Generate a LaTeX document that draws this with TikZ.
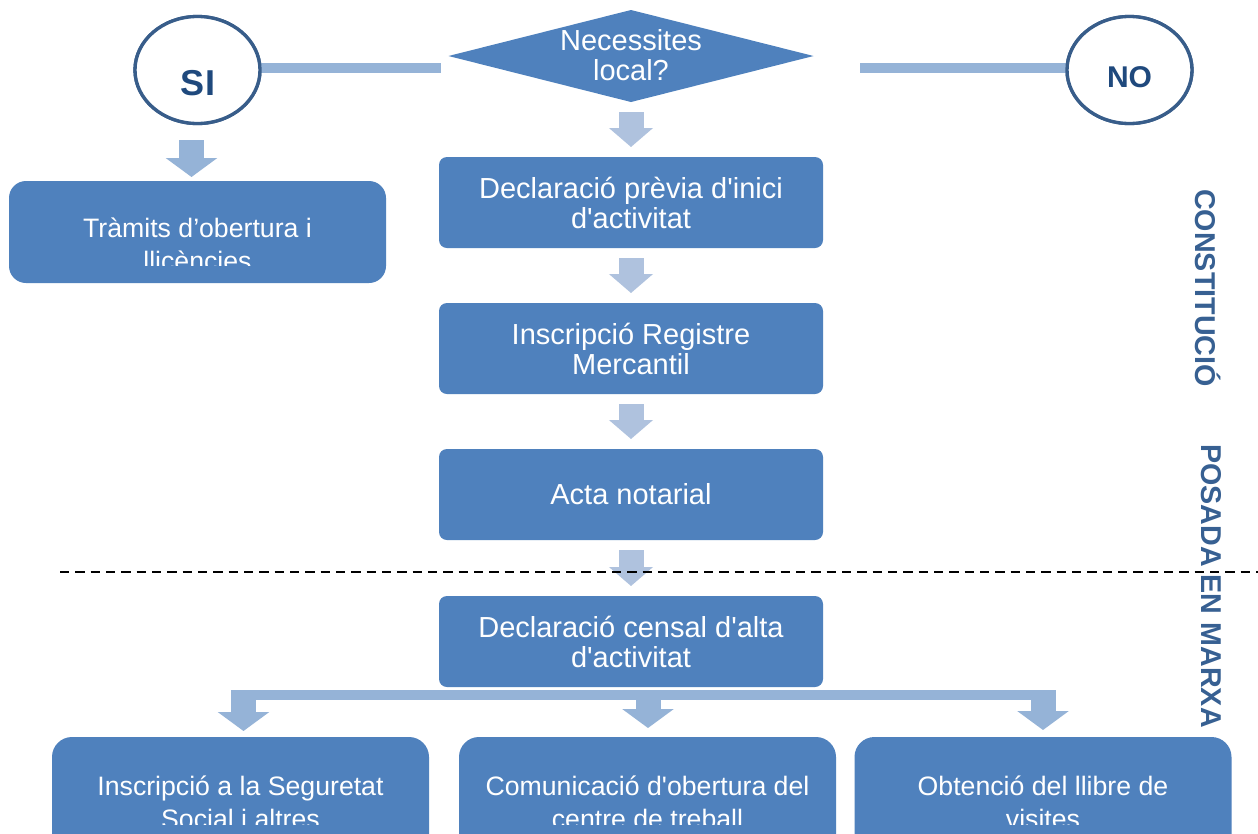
\documentclass[tikz,border=0pt]{standalone}
\usepackage{fontspec}
\setmainfont{Liberation Sans}[Ligatures=TeXOff]
\usetikzlibrary{shapes.geometric,arrows.meta}
\definecolor{boxblue}{HTML}{4F81BD}
\definecolor{barblue}{HTML}{95B3D7}
\definecolor{arrblue}{HTML}{AFC2DE}
\definecolor{ringblue}{HTML}{385D8A}
\definecolor{siblue}{HTML}{1F497D}
\definecolor{sideblue}{HTML}{376092}
\tikzset{
  stepbox/.style={rectangle, rounded corners=6pt, fill=boxblue, text=white,
    minimum width=288pt, minimum height=68.25pt, inner sep=0pt, outer sep=0pt,
    align=center, font=\fontsize{21.75}{22.5}\selectfont},
  bigbox/.style={rectangle, rounded corners=15pt, fill=boxblue,
    minimum width=282.75pt, minimum height=97.5pt, inner sep=0pt, outer sep=0pt},
  boxtext/.style={text=white, align=center, inner sep=0pt,
    font=\fontsize{20}{24.5}\selectfont},
  qtext/.style={text=white, align=center, inner sep=0pt,
    font=\fontsize{21.75}{22.5}\selectfont},
  ring/.style={ellipse, draw=ringblue, line width=2.5pt, fill=white,
    minimum width=93.75pt, minimum height=80.25pt, inner sep=0pt, outer sep=0pt},
  decision/.style={diamond, fill=boxblue, minimum width=273.75pt,
    minimum height=69pt, inner sep=0pt, outer sep=0pt},
  bar/.style={draw=barblue, line width=7.5pt},
  blockarr/.style={draw=#1, line width=18.75pt,
    -{Triangle[length=14.25pt,width=32.25pt]}},
  blockarr/.default=arrblue,
  widearr/.style={draw=barblue, line width=18.75pt,
    -{Triangle[length=14.25pt,width=38pt]}},
  sidetext/.style={rotate=-90, text=sideblue, inner sep=0pt,
    font=\fontsize{21.5}{21.5}\selectfont\bfseries},
  divider/.style={draw=black, line width=1.3pt, dash pattern=on 7pt off 4.5pt}
}
\begin{document}
\begin{tikzpicture}[x=0.75pt,y=-0.75pt]
\clip (0,0) rectangle (1258,833);
\fill[white] (0,0) rectangle (1258,833);

% top row
\coordinate (siend) at (441,68);
\coordinate (noend) at (860,68);
\node[ring] (si) at (197.5,70) {};
\node[ring] (no) at (1129.5,70) {};
\draw[bar] (si.east |- siend) -- (siend);
\draw[bar] (noend) -- (no.west |- noend);
\node[ring] at (si) {};
\node[ring] at (no) {};
\node[text=siblue, inner sep=0pt, font=\fontsize{27}{27}\selectfont\bfseries] (sit) at (198,83) {SI};
\node[text=siblue, inner sep=0pt, font=\fontsize{22.5}{22.5}\selectfont\bfseries] (not) at (1129.5,77.5) {NO};

\node[decision] (q) at (631,56) {};
\node[qtext] (qt) at (631,55) {Necessites\\local?};

% left branch
\node[bigbox, rounded corners=12.75pt, minimum height=76.5pt] (tram) at (197.5,232) {};
\begin{scope}
  \coordinate (tcut) at (0,265);
  \clip (tram.north west) rectangle (tram.east |- tcut);
  \node[boxtext] (tramt) at (197.5,244) {Tràmits d’obertura i\\llicències};
\end{scope}
\draw[widearr, shorten <=12.4pt, shorten >=3pt] ([xshift=-4.5pt]si.south) -- ([xshift=-4.5pt]tram.north);

% main column
\node[stepbox] (d1) at (631,202.5) {Declaració prèvia d'inici\\d'activitat};
\node[stepbox] (d2) at (631,348.5) {Inscripció Registre\\Mercantil};
\node[stepbox] (d3) at (631,494.5) {Acta notarial};
\node[stepbox] (d4) at (631,641.5) {Declaració censal d'alta\\d'activitat};

\draw[blockarr, shorten <=7.5pt, shorten >=7.5pt] (q.south) -- (d1.north);
\draw[blockarr, shorten <=7.5pt, shorten >=7.5pt] (d1.south) -- (d2.north);
\draw[blockarr, shorten <=7.5pt, shorten >=7.5pt] (d2.south) -- (d3.north);
\draw[blockarr, shorten <=7.5pt, shorten >=7.5pt] (d3.south) -- (d4.north);

% bottom row
\node[bigbox] (b1) at (240.5,802) {};
\node[bigbox] (b2) at (647.5,802) {};
\node[bigbox] (b3) at (1043,802) {};
\begin{scope}
  \coordinate (bcut) at (0,824);
  \clip (b1.north west) rectangle (b3.east |- bcut);
  \node[boxtext] (b1t) at (240.5,802) {Inscripció a la Seguretat\\Social i altres};
  \node[boxtext] (b2t) at (647.5,802) {Comunicació d'obertura del\\centre de treball};
  \node[boxtext] (b3t) at (1043,802) {Obtenció del llibre de\\visites};
\end{scope}

\coordinate (bl) at (232,695);
\coordinate (br) at (1054,695);
\draw[bar] (bl) -- (br);
\coordinate (j1) at (243.5,690);
\coordinate (j2) at (648,700);
\coordinate (j3) at (1043,690);
\draw[widearr, shorten >=4.5pt] (j1) -- (j1 |- b1.north);
\draw[widearr, shorten >=6.75pt] (j2) -- (j2 |- b2.north);
\draw[widearr, shorten >=5.25pt] (j3) -- (j3 |- b3.north);

% side labels
\node[sidetext] (const) at (1208,288) {CONSTITUCIÓ};
\node[sidetext] (marxa) at (1211,586) {POSADA EN MARXA};

% divider
\coordinate (dl) at (60,572);
\coordinate (dr) at (1258,572);
\draw[divider] (dl) -- (dr);
\end{tikzpicture}
\end{document}
